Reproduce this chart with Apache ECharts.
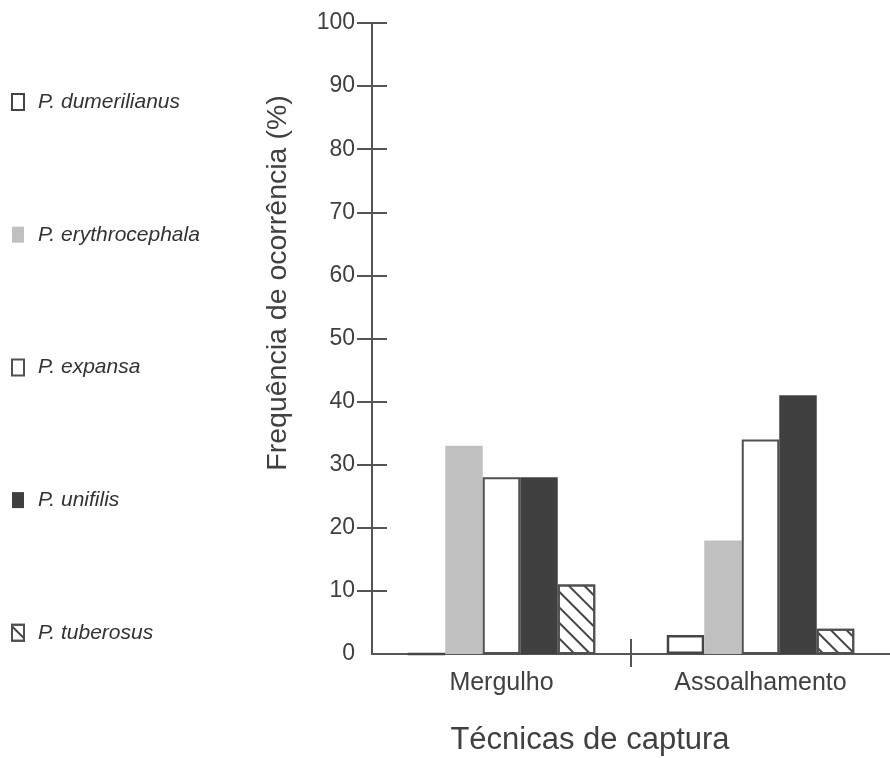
<!DOCTYPE html>
<html>
<head>
<meta charset="utf-8">
<script src="https://cdn.jsdelivr.net/npm/echarts@6/dist/echarts.min.js"></script>
<style>
  html, body { margin: 0; padding: 0; background: #ffffff; }
  #chart { width: 890px; height: 758px; }
</style>
</head>
<body>
<div id="chart"></div>
<script>
// Capture techniques (categories) and occurrence frequency (%) per species
const categories = ['Mergulho', 'Assoalhamento'];
const yTickLabels = ['0', '10', '20', '30', '40', '50', '60', '70', '80', '90', '100'];

const speciesNames = ['P. dumerilianus', 'P. erythrocephala', 'P. expansa', 'P. unifilis', 'P. tuberosus'];
const dumerilianus = [0, 3];
const erythrocephala = [33, 18];
const expansa = [28, 34];
const unifilis = [28, 41];
const tuberosus = [11, 4];

const AXIS_COLOR = '#555555';
const TEXT_COLOR = '#404040';
const FONT = '"Liberation Sans", Arial, sans-serif';

const chart = echarts.init(document.getElementById('chart'), null, { renderer: 'canvas' });

function barSeries(name, values, itemStyle) {
  return {
    name: name,
    type: 'bar',
    xAxisIndex: 0,
    yAxisIndex: 0,
    data: values,
    barWidth: 37.5,
    barGap: '0%',
    itemStyle: itemStyle,
    emphasis: { disabled: true },
    animation: false
  };
}

// diagonal hatching used for P. tuberosus
const hatch = {
  symbol: 'rect',
  symbolSize: 1,
  dashArrayX: [1, 0],
  dashArrayY: [2, 9],
  rotation: Math.PI / 4,
  color: '#444444'
};

const option = {
  backgroundColor: '#ffffff',
  animation: false,
  textStyle: { fontFamily: FONT },
  grid: { left: 372, top: 23, width: 524, height: 631, containLabel: false },
  legend: {
    orient: 'vertical',
    left: 6,
    top: 86,
    icon: 'rect',
    itemWidth: 12,
    itemHeight: 16,
    itemGap: 110.7,
    selectedMode: false,
    data: speciesNames,
    textStyle: {
      fontFamily: FONT,
      fontStyle: 'italic',
      fontSize: 21,
      lineHeight: 22,
      color: '#333333',
      padding: [0, 0, 0, 9]
    }
  },
  xAxis: [
    {
      type: 'category',
      data: categories,
      position: 'bottom',
      axisLine: { show: true, lineStyle: { color: AXIS_COLOR, width: 2 } },
      axisTick: { show: false },
      axisLabel: { fontSize: 25, color: TEXT_COLOR, margin: 17, fontFamily: FONT },
      splitLine: { show: false }
    },
    {
      // divider tick between the two techniques (below the axis)
      type: 'category',
      data: ['', '', ''],
      boundaryGap: false,
      position: 'bottom',
      axisLine: { show: false },
      axisLabel: { show: false },
      axisTick: { show: true, length: 13, interval: (i) => i === 1, lineStyle: { color: AXIS_COLOR, width: 2 } },
      splitLine: { show: false }
    },
    {
      // divider tick between the two techniques (above the axis)
      type: 'category',
      data: ['', '', ''],
      boundaryGap: false,
      position: 'bottom',
      axisLine: { show: false },
      axisLabel: { show: false },
      axisTick: { show: true, inside: true, length: 15, interval: (i) => i === 1, lineStyle: { color: AXIS_COLOR, width: 2 } },
      splitLine: { show: false }
    }
  ],
  yAxis: [
    {
      type: 'value',
      min: 0,
      max: 100,
      interval: 10,
      position: 'left',
      axisLine: { show: true, lineStyle: { color: AXIS_COLOR, width: 2 } },
      axisTick: { show: false },
      axisLabel: { show: false },
      splitLine: { show: false }
    },
    {
      type: 'category',
      data: yTickLabels,
      boundaryGap: false,
      position: 'left',
      axisLine: { show: false },
      axisTick: { show: true, length: 15, interval: (i) => i > 0, lineStyle: { color: AXIS_COLOR, width: 2 } },
      axisLabel: { show: true, interval: 0, fontSize: 23, color: TEXT_COLOR, margin: 17, fontFamily: FONT },
      splitLine: { show: false }
    },
    {
      type: 'category',
      data: yTickLabels,
      boundaryGap: false,
      position: 'left',
      axisLine: { show: false },
      axisTick: { show: true, inside: true, length: 15, interval: (i) => i > 0, lineStyle: { color: AXIS_COLOR, width: 2 } },
      axisLabel: { show: false },
      splitLine: { show: false }
    }
  ],
  graphic: [
    {
      type: 'text',
      x: 278,
      y: 283,
      rotation: Math.PI / 2,
      style: {
        text: 'Frequência de ocorrência (%)',
        font: '28.5px ' + FONT,
        fill: TEXT_COLOR,
        textAlign: 'center',
        textVerticalAlign: 'middle'
      }
    },
    {
      type: 'text',
      x: 590,
      y: 740,
      style: {
        text: 'Técnicas de captura',
        font: '31px ' + FONT,
        fill: TEXT_COLOR,
        textAlign: 'center',
        textVerticalAlign: 'middle'
      }
    }
  ],
  series: [
    barSeries(speciesNames[0], dumerilianus, { color: '#ffffff', borderColor: '#444444', borderWidth: 2.5 }),
    barSeries(speciesNames[1], erythrocephala, { color: '#c0c0c0' }),
    barSeries(speciesNames[2], expansa, { color: '#ffffff', borderColor: '#505050', borderWidth: 2 }),
    barSeries(speciesNames[3], unifilis, { color: '#404040' }),
    barSeries(speciesNames[4], tuberosus, { color: '#ffffff', borderColor: '#505050', borderWidth: 2, decal: hatch })
  ]
};

chart.setOption(option);
</script>
</body>
</html>
